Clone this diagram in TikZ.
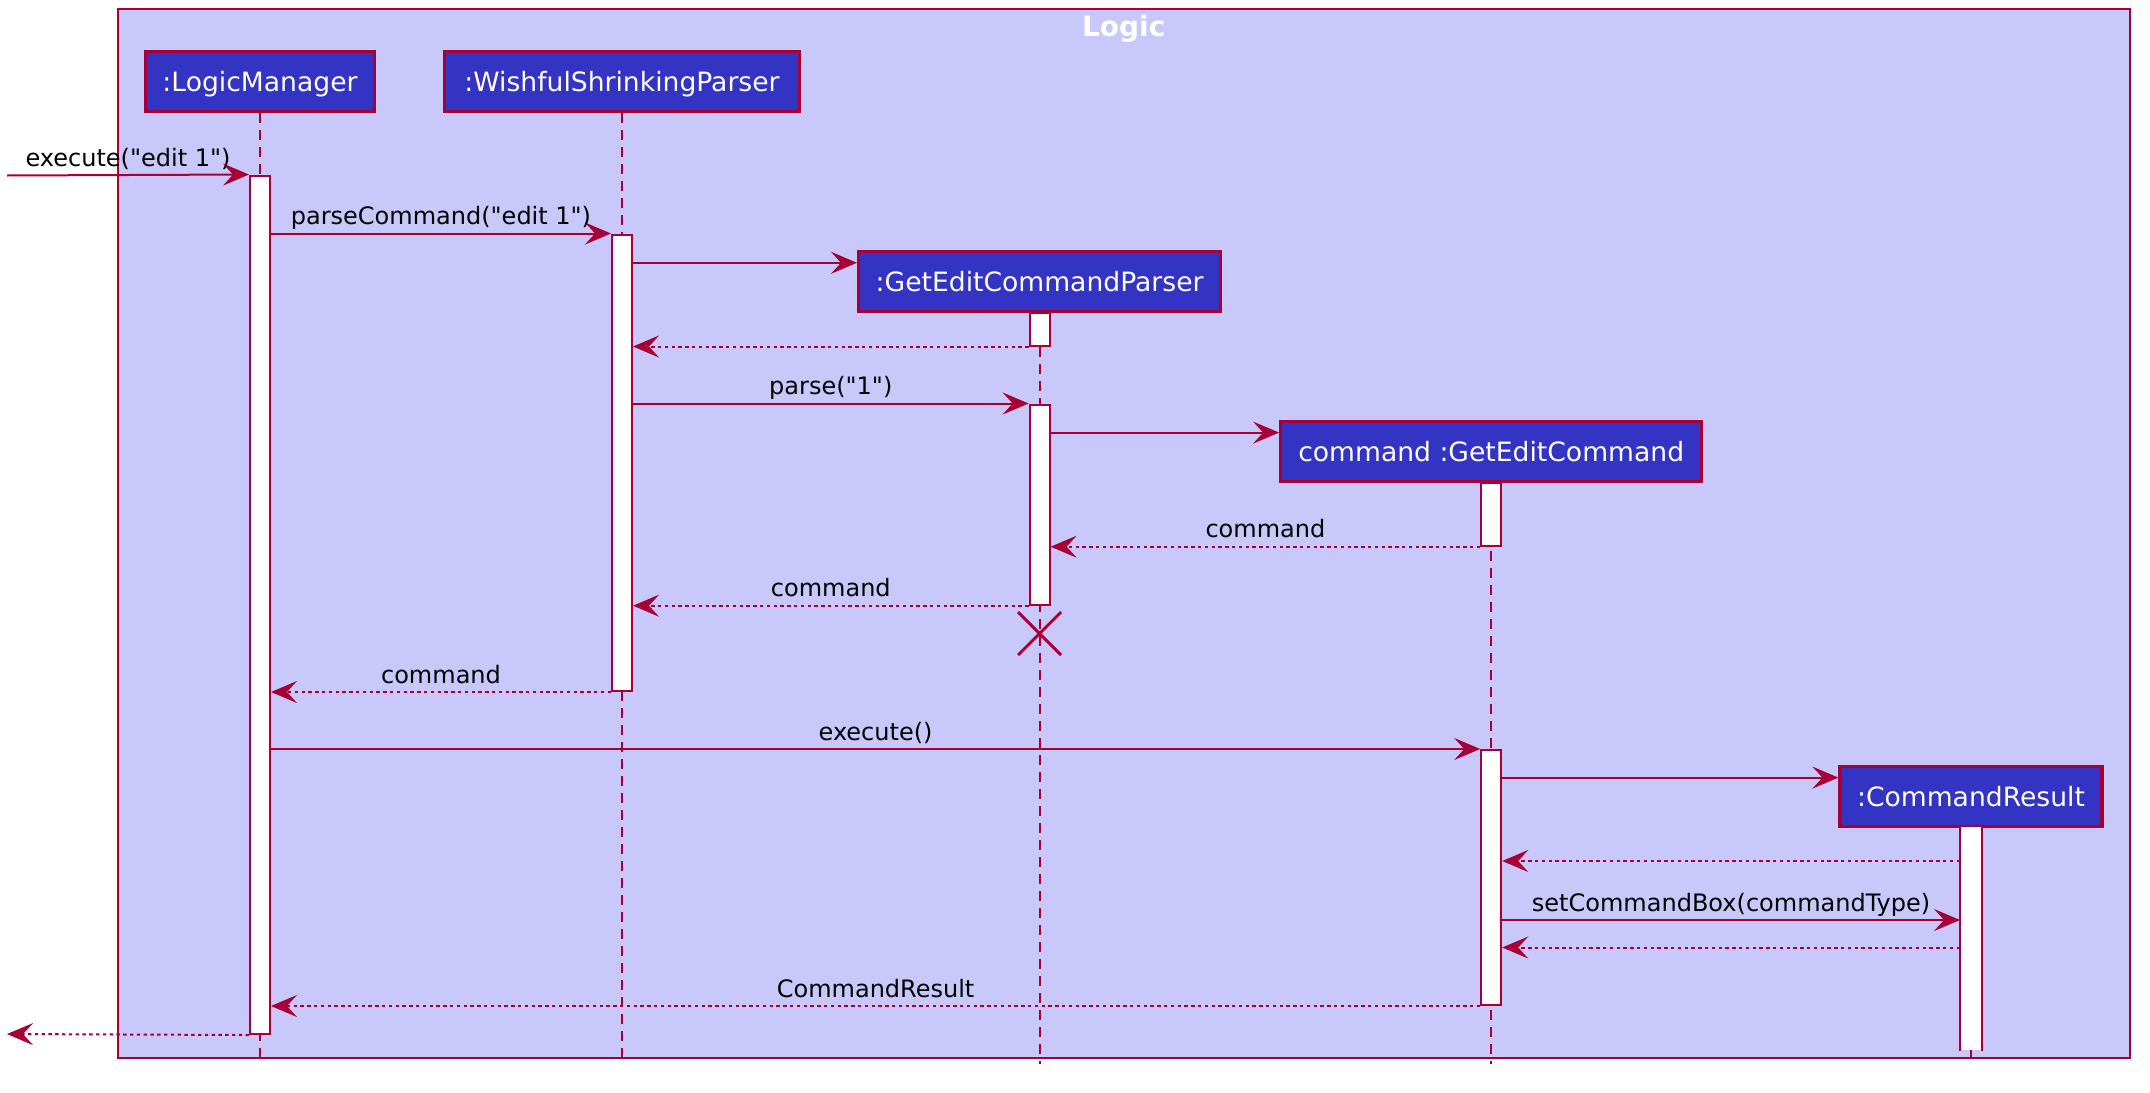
\documentclass[tikz,border=0pt]{standalone}
\usepackage{fontspec}
\newfontfamily\umlfont{DejaVu Sans}
\usepackage{tikz}
\usetikzlibrary{
  arrows.meta,
  shapes.misc,
  positioning
}
\definecolor{umlLine}{HTML}{A80036}
\definecolor{umlLogic}{HTML}{3333C4}
\definecolor{umlLogicT1}{HTML}{C8C8FA}
\tikzset{
  logicbox/.style={draw=umlLine, fill=umlLogicT1, line width=1pt, inner sep=0pt},
  boxtitle/.style={text=white, font=\umlfont\fontsize{14}{16}\selectfont\bfseries, inner sep=0pt},
  actor/.style={
    draw=umlLine, fill=umlLogic, text=white, line width=1.6pt,
    minimum height=30pt, inner sep=0pt, text height=12pt, text depth=2.5pt,
    font=\umlfont\fontsize{13.3}{16}\selectfont
  },
  actbar/.style={draw=umlLine, fill=white, line width=1pt, minimum width=10pt, inner sep=0pt},
  actside/.style={umlLine, line width=1pt},
  lifeline/.style={umlLine, line width=1pt, dash pattern=on 5pt off 3.5pt},
  msg/.style={-{Stealth[length=13pt, width=11pt, inset=5pt]}, umlLine, line width=1pt},
  ret/.style={msg, dash pattern=on 1.7pt off 1.7pt},
  lbl/.style={text=black, font=\umlfont\fontsize{12}{14}\selectfont, anchor=base, yshift=4.5pt, inner sep=0pt},
  killmark/.style={draw=umlLine, cross out, line width=1.5pt, minimum size=20pt, inner sep=0pt}
}

\begin{document}
\begin{tikzpicture}[x=0.5pt, y=-0.5pt]
  \useasboundingbox (0,0) rectangle (2150,1092);
  % frame
  \node[logicbox, minimum width=1005.75pt, minimum height=524.75pt] (logic) at (1123.75,533.25) {};
  \node[boxtitle] (logicT) at ([yshift=-10.5pt]logic.north) {Logic};
  % participants
  \node[actor, minimum width=114.5pt] (lm) at (260,81.5) {:LogicManager};
  \node[actor, minimum width=177.5pt] (wsp) at (622,81.5) {:WishfulShrinkingParser};
  \node[actor, minimum width=181pt] (gecp) at (1039.6,281.8) {:GetEditCommandParser};
  \node[actor, minimum width=210.5pt] (gec) at (1491.2,451.8) {command :GetEditCommand};
  \node[actor, minimum width=131pt] (cr) at (1971,796.8) {:CommandResult};
  \coordinate (lifeend) at (0,1064);
  \foreach \p in {lm,wsp,gecp,gec,cr}
    \draw[lifeline] (\p.south) -- (\p.south |- lifeend);
  % activations
  \node[actbar, minimum height=429.25pt] (lmA) at (lm |- 0,604.75) {};
  \node[actbar, minimum height=228.25pt] (wspA) at (wsp |- 0,462.75) {};
  \node[actbar, minimum height=16.5pt] (gecpA1) at (gecp |- 0,329) {};
  \node[actbar, minimum height=100.1pt] (gecpA2) at (gecp |- 0,504.6) {};
  \node[actbar, minimum height=31.5pt] (gecA1) at (gec |- 0,514.2) {};
  \node[actbar, minimum height=127.5pt] (gecA2) at (gec |- 0,877.5) {};
  \node[actbar, draw=none, minimum height=111.5pt] (crA) at (cr |- 0,938.5) {};
  \draw[actside] (crA.north west) -- (crA.south west) (crA.north east) -- (crA.south east);
  % messages
  \coordinate (inL) at (7,175.5);
  \coordinate (outL) at (7,1034);
  \coordinate (gecpIn) at ([yshift=-6.3pt]gecp.north west);
  \coordinate (gecIn) at ([yshift=-6.2pt]gec.north west);
  \coordinate (crIn) at ([yshift=-6.2pt]cr.north west);
  \draw[msg] (inL) -- (lmA.north west) node[midway, lbl] {execute("edit 1")};
  \draw[msg] (lmA.east |- wspA.north) -- (wspA.north west) node[midway, lbl] {parseCommand("edit 1")};
  \draw[msg] (wspA.east |- gecpIn) -- (gecpIn);
  \draw[ret] (gecpA1.south west) -- (wspA.east |- gecpA1.south);
  \draw[msg] (wspA.east |- gecpA2.north) -- (gecpA2.north west) node[midway, lbl] {parse("1")};
  \draw[msg] (gecpA2.east |- gecIn) -- (gecIn);
  \draw[ret] (gecA1.south west) -- (gecpA2.east |- gecA1.south) node[midway, lbl] {command};
  \draw[ret] (gecpA2.south west) -- (wspA.east |- gecpA2.south) node[midway, lbl] {command};
  \node[killmark] (gecpX) at (gecp |- 0,633.5) {};
  \draw[ret] (wspA.south west) -- (lmA.east |- wspA.south) node[midway, lbl] {command};
  \draw[msg] (lmA.east |- gecA2.north) -- (gecA2.north west) node[midway, lbl] {execute()};
  \draw[msg] (gecA2.east |- crIn) -- (crIn);
  \draw[ret] (crA.west |- 0,861) -- (gecA2.east |- 0,861);
  \draw[msg] (gecA2.east |- 0,920) -- (crA.west |- 0,920) node[midway, lbl] {setCommandBox(commandType)};
  \draw[ret] (crA.west |- 0,947.5) -- (gecA2.east |- 0,947.5);
  \draw[ret] (gecA2.south west) -- (lmA.east |- gecA2.south) node[midway, lbl] {CommandResult};
  \draw[ret] (lmA.south west) -- (outL);
\end{tikzpicture}
\end{document}
